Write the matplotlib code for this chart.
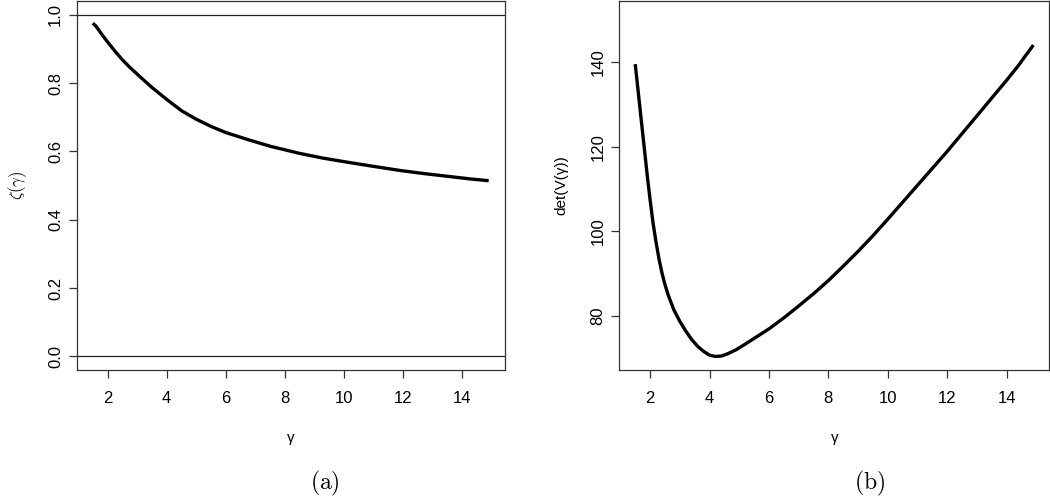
import numpy as np
import matplotlib
matplotlib.use("Agg")
from matplotlib import pyplot as plt

plt.rcParams['font.family'] = ['Liberation Sans', 'DejaVu Sans']
plt.rcParams['mathtext.fontset'] = 'cm'

# panel (a): zeta(gamma)
gamma_a = [1.5, 1.6, 1.7, 1.85, 2.0, 2.25, 2.5, 2.75, 3.0, 3.5, 4.0, 4.5,
           5.0, 5.5, 6.0, 6.8, 7.5, 8.5, 9.3, 10.2, 11.0, 11.9, 12.7, 13.6,
           14.3, 14.9]
zeta = [0.975, 0.967, 0.955, 0.937, 0.92, 0.893, 0.868, 0.846, 0.826, 0.787,
        0.752, 0.719, 0.694, 0.673, 0.655, 0.633, 0.615, 0.594, 0.580, 0.567,
        0.556, 0.544, 0.535, 0.526, 0.519, 0.514]
ref_lines = [0.0, 1.0]

# panel (b): det(V(gamma))
gamma_b = [1.5, 1.6, 1.7, 1.8, 1.9, 2.0, 2.1, 2.2, 2.3, 2.4, 2.5, 2.6, 2.8,
           3.0, 3.2, 3.4, 3.6, 3.8, 4.0, 4.2, 4.4, 4.6, 4.9, 5.2, 5.6, 6.0,
           6.5, 7.0, 7.5, 8.0, 8.5, 9.0, 9.5, 10.0, 10.5, 11.0, 11.5, 12.0,
           12.5, 13.0, 13.5, 14.0, 14.4, 14.7, 14.9]
det_v = [139.5, 133, 126.5, 120, 113.5, 107.5, 102, 97.5, 93.5, 90.2, 87.5,
         85.2, 81.5, 78.8, 76.5, 74.5, 72.9, 71.7, 70.8, 70.5, 70.6, 71.1,
         72.1, 73.4, 75.2, 77.0, 79.6, 82.4, 85.3, 88.4, 91.8, 95.3, 99.0,
         102.9, 106.9, 110.9, 114.9, 118.9, 123.1, 127.3, 131.5, 135.7,
         139.2, 142.1, 144.0]

xticks = [2, 4, 6, 8, 10, 12, 14]

W, H = 1050, 498
fig = plt.figure(figsize=(W / 100, H / 100), dpi=100)

ax1 = fig.add_axes([77 / W, 128 / H, 427.5 / W, 369 / H])
ax2 = fig.add_axes([619.3 / W, 128 / H, 430 / W, 369 / H])


def style(ax):
    for s in ax.spines.values():
        s.set_linewidth(0.9)
        s.set_color('#333333')
    ax.tick_params(axis='both', length=6, width=0.9, color='#333333',
                   labelsize=12)
    ax.tick_params(axis='x', pad=9)
    ax.tick_params(axis='y', pad=4)
    ax.set_xticks(xticks)
    ax.set_xlim(0.964, 15.436)
    for lab in ax.get_yticklabels():
        lab.set_rotation(90)
        lab.set_va('center')


ax1.plot(gamma_a, zeta, color='black', lw=2.4, solid_capstyle='butt',
         solid_joinstyle='round')
for v in ref_lines:
    ax1.axhline(v, color='#222222', lw=0.9)
ax1.set_ylim(-0.04, 1.04)
ax1.set_yticks([0.0, 0.2, 0.4, 0.6, 0.8, 1.0])
ax1.set_yticklabels(['0.0', '0.2', '0.4', '0.6', '0.8', '1.0'])
style(ax1)
ax1.set_xlabel('γ', fontsize=11, labelpad=18)
ax1.set_ylabel(r'$\zeta(\gamma)$', fontsize=12, labelpad=14)

ax2.plot(gamma_b, det_v, color='black', lw=2.4, solid_capstyle='butt',
         solid_joinstyle='round')
ax2.set_ylim(67.3, 154.4)
ax2.set_yticks([80, 100, 120, 140])
style(ax2)
ax2.set_xlabel('γ', fontsize=11, labelpad=18)
ax2.set_ylabel('det(V(γ))', fontsize=11, labelpad=16)

fig.text(325 / W, 1 - 483 / H, r'$\mathrm{(a)}$', fontsize=17,
         ha='center', va='center')
fig.text(870 / W, 1 - 483 / H, r'$\mathrm{(b)}$', fontsize=17,
         ha='center', va='center')

fig.savefig('out.png', dpi=100)
